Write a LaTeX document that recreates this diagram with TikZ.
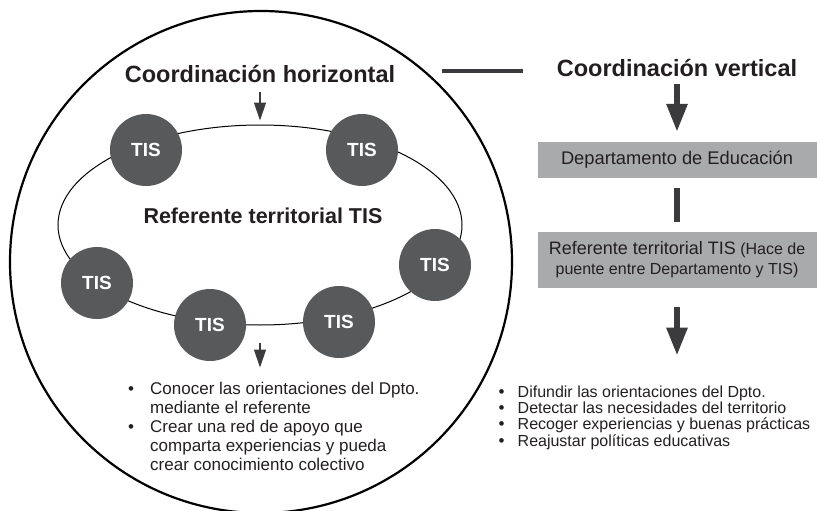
\documentclass[tikz,border=0pt]{standalone}
\usepackage{fontspec}
\setmainfont{Liberation Sans}
\usepackage{xcolor}
\usetikzlibrary{positioning,arrows.meta,shapes.geometric}

\definecolor{tisgray}{HTML}{58595B}
\definecolor{boxgray}{HTML}{A9AAAC}
\definecolor{inkdark}{HTML}{3B3B3D}
\definecolor{textdark}{HTML}{231F20}

\newcommand{\li}[2][22pt]{\makebox[#1][l]{\fontsize{17}{17}\selectfont\textbullet}#2}

\begin{document}
\begin{tikzpicture}[x=1pt, y=-1pt, text=textdark,
		tis/.style={circle, fill=tisgray, minimum size=72pt, inner sep=0pt, text=white, font=\fontsize{19}{19}\selectfont\bfseries},
		greybox/.style={fill=boxgray, minimum width=279pt, inner sep=0pt},
		title/.style={anchor=base, inner sep=0pt, font=\fontsize{23.5}{24}\selectfont\bfseries},
		thin arrow/.style={-{Triangle[width=12pt,length=18pt]}, line width=1.3pt, draw=inkdark},
		thick arrow/.style={-{Triangle[width=20pt,length=28pt]}, line width=6pt, draw=inkdark},
		bullets/.style={align=left, anchor=north west, inner sep=0pt}]
		\useasboundingbox (0,0) rectangle (817,511);

		\node[circle, draw, line width=2.2pt, minimum size=502pt, inner sep=0pt] (outer) at (261,262) {};
		\node[ellipse, draw, line width=1pt, minimum width=404pt, minimum height=200pt, inner sep=0pt] (ring) at (260,225) {};

		\node[title] (htitle) at (260,83) {Coordinación horizontal};
		\node[anchor=base, font=\fontsize{21.5}{22}\selectfont\bfseries] (reftis) at (263,223) {Referente territorial TIS};

		\node[tis] (tis1) at (146,150) {TIS};
		\node[tis] (tis2) at (362,150) {TIS};
		\node[tis] (tis3) at (435,265) {TIS};
		\node[tis] (tis4) at (339,322) {TIS};
		\node[tis] (tis5) at (210,325) {TIS};
		\node[tis] (tis6) at (97,283) {TIS};

		\node[bullets, font=\fontsize{17}{19}\selectfont] (hlist) at (128,381.5)
			{\li{Conocer las orientaciones del Dpto.}\\
			\hspace*{22pt}mediante el referente\\
			\li{Crear una red de apoyo que}\\
			\hspace*{22pt}comparta experiencias y pueda\\
			\hspace*{22pt}crear conocimiento colectivo};

		\node[title] (vtitle) at (677,77) {Coordinación vertical};
		\node[greybox, minimum height=36pt, font=\fontsize{18.3}{20}\selectfont] (dept) at (677,160) {Departamento de Educación};
		\node[greybox, minimum height=56pt, align=center, font=\fontsize{16}{20}\selectfont] (refbox) at (677,260)
			{{\fontsize{18}{20}\selectfont Referente territorial TIS} (Hace de\\ puente entre Departamento y TIS)};

		\node[bullets, font=\fontsize{16}{16.3}\selectfont] (vlist) at (498.5,385.5)
			{\li[19pt]{Difundir las orientaciones del Dpto.}\\
			\li[19pt]{Detectar las necesidades del territorio}\\
			\li[19pt]{Recoger experiencias y buenas prácticas}\\
			\li[19pt]{Reajustar políticas educativas}};

		\coordinate (barL) at (442,71);
		\coordinate (barR) at (523,71);
		\draw[line width=4pt, inkdark] (barL) -- (barR);

		\draw[thin arrow, shorten <=9pt, shorten >=4pt] (htitle.south) -- (ring.north);
		\draw[thin arrow, shorten <=17pt, shorten >=14pt] (ring.south) -- (ring.south |- hlist.north);

		\draw[thick arrow, shorten <=7pt, shorten >=10pt] (vtitle.south) -- (dept.north);
		\draw[line width=6pt, inkdark, shorten <=10pt, shorten >=10pt] (dept.south) -- (refbox.north);
		\draw[thick arrow, shorten <=19pt, shorten >=30pt] (refbox.south) -- (refbox.south |- vlist.north);
	\end{tikzpicture}
\end{document}
